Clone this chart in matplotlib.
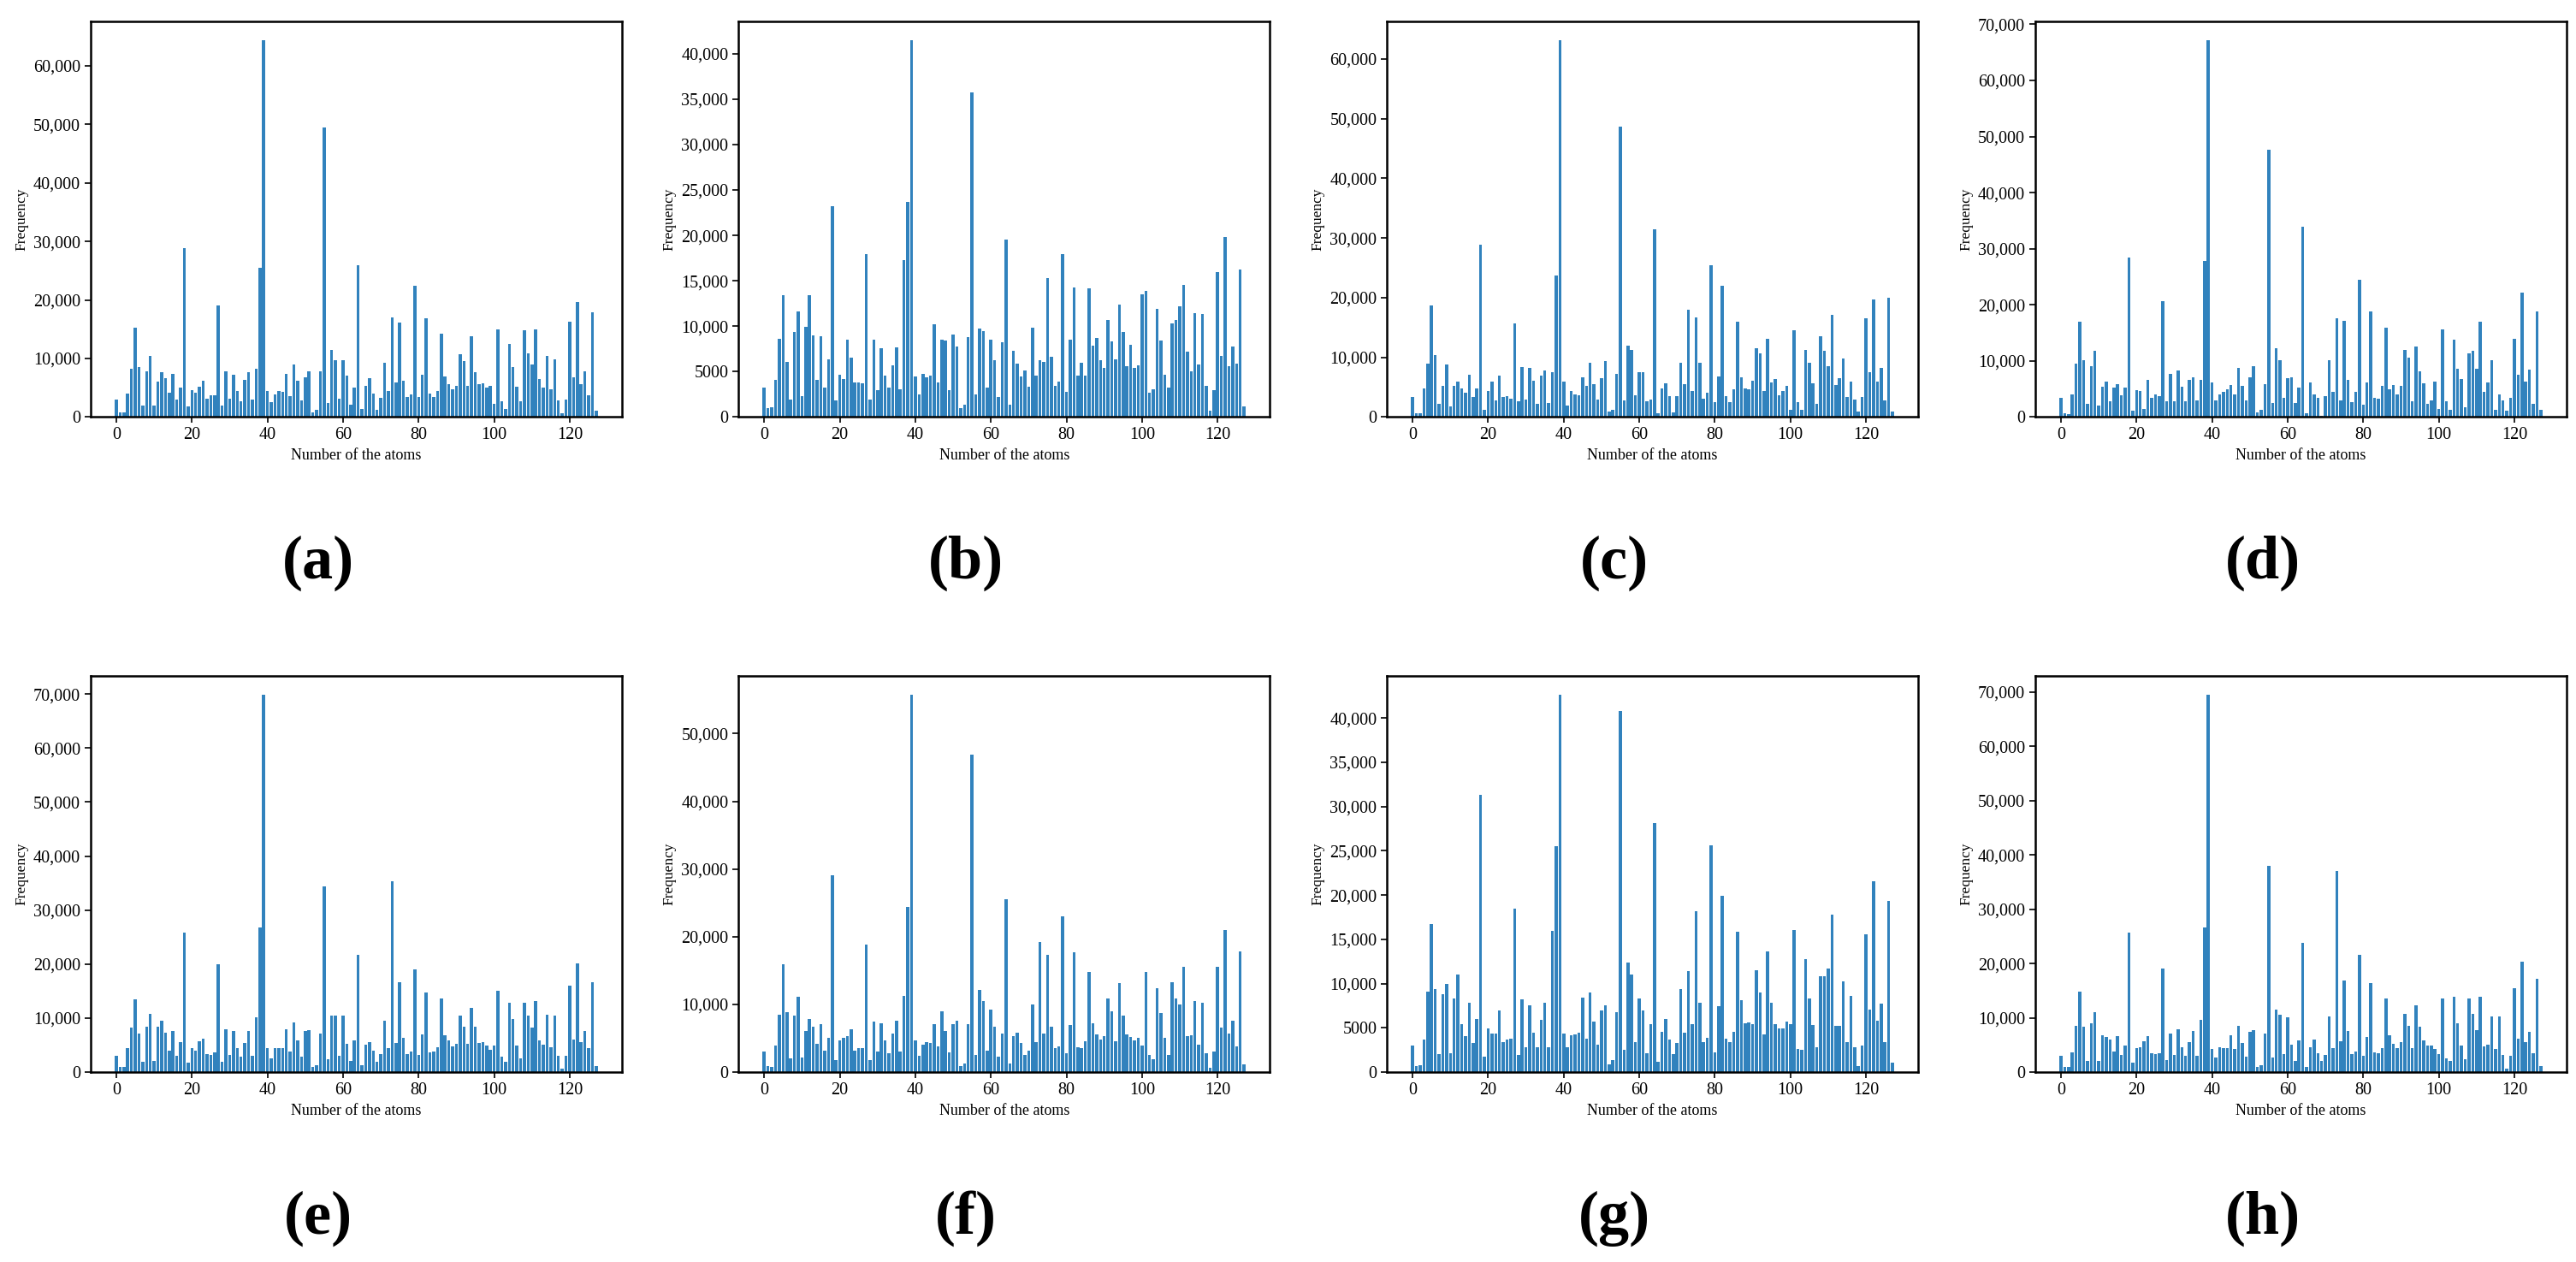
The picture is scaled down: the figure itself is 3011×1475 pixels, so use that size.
import matplotlib
matplotlib.use("Agg")
import matplotlib.pyplot as plt
from matplotlib.ticker import FuncFormatter
import numpy as np

# Frequency of each atom (0..127) for the eight panels
freq_a = [3000, 800, 800, 4000, 8200, 15300, 8600, 2000, 7800, 10400,
          2000, 6100, 7700, 6600, 4200, 7400, 3000, 5100, 28800, 1800,
          4600, 4200, 5200, 6200, 3100, 3700, 3700, 19000, 2000, 7800,
          3100, 7300, 4400, 2700, 6400, 7700, 3000, 8200, 25500, 64400,
          4400, 2600, 3900, 4400, 4300, 7400, 3600, 9000, 6200, 2900,
          6800, 7800, 800, 1300, 7800, 49400, 2400, 11500, 9700, 3100,
          9700, 7100, 2100, 5100, 25900, 1400, 5300, 6600, 4000, 1300,
          3300, 9300, 4400, 17000, 5900, 16100, 6200, 3400, 3900, 22400,
          3400, 7300, 16800, 4000, 3400, 4400, 14200, 6900, 5600, 4700,
          5300, 10700, 9500, 5300, 13800, 7700, 5600, 5800, 5100, 5300,
          2200, 15000, 2700, 1400, 12500, 8600, 5200, 2700, 14800, 10900,
          9000, 15000, 6500, 5100, 10400, 4700, 9900, 2900, 700, 3000,
          16300, 6800, 19700, 5600, 7800, 3700, 17900, 1100]

freq_b = [3200, 1000, 1100, 4100, 8600, 13400, 6100, 1900, 9400, 11600,
          2300, 9900, 13400, 9000, 4100, 8900, 3200, 6400, 23200, 1800,
          4700, 4200, 8500, 6500, 3800, 3800, 3700, 17900, 1900, 8500,
          3000, 7600, 4600, 3200, 5700, 7700, 3100, 17300, 23700, 41500,
          4500, 2500, 4800, 4400, 4600, 10200, 3800, 8500, 8400, 3000,
          9100, 7800, 1000, 1400, 8800, 35700, 2500, 9700, 9500, 3200,
          8500, 6300, 2200, 8200, 19500, 1400, 7300, 5900, 4500, 5100,
          3300, 9800, 4600, 6300, 6100, 15300, 6600, 3400, 3900, 17900,
          2800, 8500, 14300, 4600, 6000, 4600, 14200, 7900, 8700, 6300,
          5400, 10700, 8300, 6400, 12400, 9400, 5600, 8000, 5400, 5700,
          13500, 13900, 2700, 3100, 11900, 8400, 4700, 3200, 10300, 10700,
          12200, 14500, 7200, 5000, 11400, 5800, 11300, 3400, 700, 3000,
          16000, 6700, 19800, 5600, 7800, 5900, 16200, 1200]

freq_c = [3400, 700, 700, 4800, 9000, 18700, 10400, 2200, 5200, 8800,
          1800, 5200, 5900, 4800, 4100, 7100, 3400, 4800, 28900, 1200,
          4400, 5900, 2800, 7000, 3400, 3500, 3100, 15700, 2700, 8400,
          2900, 8200, 6100, 2200, 7000, 7800, 2400, 7500, 23700, 63200,
          5900, 1900, 4300, 3800, 3600, 6700, 5200, 9100, 5500, 2900,
          6500, 9400, 900, 1200, 7200, 48700, 2800, 12000, 11300, 3600,
          7500, 7500, 2700, 2900, 31400, 700, 4800, 5700, 3500, 800,
          3500, 9100, 5500, 18000, 4400, 16700, 9100, 3100, 4100, 25500,
          2500, 6800, 22000, 3500, 2500, 4700, 16000, 6700, 4800, 4700,
          6100, 11500, 10700, 4300, 13100, 5800, 6400, 3600, 4400, 5200,
          1200, 14500, 2500, 1200, 11300, 9100, 5700, 2200, 13600, 11100,
          8600, 17200, 5400, 6500, 9800, 3400, 5900, 2900, 900, 3400,
          16500, 7500, 19700, 5900, 8200, 2800, 20000, 900]

freq_d = [3400, 700, 500, 4000, 9500, 17000, 10200, 2300, 9000, 11800,
          2000, 5400, 6400, 2800, 5200, 5800, 3900, 5200, 28500, 1100,
          4800, 4600, 1400, 6600, 3500, 4100, 3700, 20600, 2800, 7700,
          2800, 8300, 5400, 2800, 6600, 7100, 2900, 6600, 27800, 67200,
          6200, 2900, 4100, 4500, 4900, 5700, 4100, 8700, 5600, 2900,
          7100, 9000, 800, 1300, 5800, 47600, 2500, 12300, 10200, 3400,
          6900, 7100, 2500, 5200, 33900, 700, 6200, 4000, 3500, 300,
          3700, 10200, 4500, 17600, 2900, 17100, 6600, 2600, 4500, 24500,
          2200, 6200, 18800, 3400, 3300, 5600, 15900, 4900, 5700, 4000,
          5600, 11900, 10600, 2800, 12500, 8100, 6000, 2300, 2900, 6300,
          1400, 15600, 2800, 1300, 13800, 8600, 6800, 1700, 11300, 11800,
          8600, 17000, 4500, 6200, 10200, 1300, 4000, 2900, 1100, 3400,
          14000, 7500, 22200, 6300, 8400, 2300, 18800, 1300]

freq_e = [3100, 1000, 900, 4400, 8300, 13500, 7200, 2000, 8400, 10800,
          2100, 8400, 9600, 7300, 4000, 7600, 3100, 5600, 25900, 1800,
          4500, 4000, 5700, 6200, 3400, 3200, 3700, 20000, 2000, 8000,
          3200, 7600, 4500, 2900, 5400, 7600, 3100, 10200, 26800, 69800,
          4500, 2600, 4400, 4400, 4400, 8000, 3800, 9200, 5900, 2900,
          7600, 7800, 900, 1300, 7200, 34400, 2400, 10500, 10500, 3100,
          10400, 5300, 2100, 5900, 21700, 1300, 5100, 5600, 4000, 2000,
          3400, 9600, 4500, 35400, 5400, 16700, 6400, 3400, 3800, 19100,
          3200, 7000, 14800, 3700, 3800, 4600, 13600, 6800, 5900, 4800,
          5300, 10500, 8400, 5300, 11900, 8400, 5400, 5600, 4900, 4200,
          4900, 15100, 2800, 2000, 12800, 9800, 4900, 2600, 12800, 10400,
          8300, 13200, 5900, 5100, 10600, 4600, 10500, 3100, 700, 3100,
          16000, 6100, 20100, 5600, 7600, 4400, 16700, 1200]

freq_f = [3100, 900, 800, 4000, 8500, 15900, 8900, 2100, 8400, 11200,
          2200, 6100, 7900, 6700, 4200, 7100, 3200, 5100, 29100, 1800,
          4700, 5100, 5300, 6400, 3200, 3500, 3600, 18900, 1800, 7500,
          3100, 7200, 4700, 2800, 5700, 7600, 3100, 11300, 24400, 55700,
          4700, 2400, 4100, 4500, 4300, 7100, 3800, 9000, 6100, 2900,
          7100, 7600, 900, 1300, 7100, 46900, 2600, 12100, 10500, 3200,
          9300, 6700, 2300, 5700, 25600, 1300, 5300, 5800, 4300, 2600,
          3200, 10000, 4500, 19200, 5700, 17300, 6700, 3500, 3800, 23000,
          2800, 7000, 17700, 3700, 3600, 4600, 14800, 7200, 5600, 4800,
          5300, 10900, 9000, 4600, 13200, 8400, 5600, 5200, 4700, 5100,
          3900, 14800, 2600, 1900, 12400, 8800, 5100, 2600, 13300, 10900,
          10000, 15600, 5300, 5500, 10500, 4100, 10200, 2800, 700, 3100,
          15600, 6600, 21000, 5700, 7600, 3800, 17800, 1200]

freq_g = [3000, 700, 800, 3700, 9100, 16700, 9400, 2000, 8800, 10000,
          2100, 8300, 11000, 5400, 4100, 7800, 3300, 6000, 31300, 1800,
          4900, 4400, 4400, 7000, 3400, 3700, 3800, 18500, 1900, 8200,
          2800, 7600, 4500, 2800, 5900, 7800, 2800, 16000, 25500, 42600,
          4400, 2800, 4200, 4300, 4500, 8400, 3800, 9000, 5700, 3100,
          7000, 7600, 900, 1400, 6800, 40800, 2500, 12400, 11000, 3400,
          8300, 7000, 2100, 5400, 28100, 1200, 4600, 6000, 3700, 2000,
          3300, 9400, 4500, 11400, 5400, 18200, 7800, 3400, 3900, 25600,
          2200, 7500, 19900, 3800, 3400, 4600, 15900, 8100, 5500, 5600,
          5400, 11500, 9000, 4300, 13600, 7800, 5400, 4900, 4900, 5700,
          5400, 16100, 2600, 2500, 12800, 8300, 5300, 2800, 10800, 10800,
          11700, 17800, 5200, 5200, 10300, 3400, 8600, 2800, 700, 3000,
          15600, 7100, 21600, 5800, 7700, 3400, 19300, 1100]

freq_h = [3000, 900, 900, 3700, 8600, 14900, 8400, 2000, 9000, 11100,
          2100, 6800, 6500, 6000, 3800, 6600, 3200, 4900, 25700, 1800,
          4400, 4600, 5700, 6600, 3500, 3400, 3500, 19100, 2300, 7100,
          3200, 7900, 4600, 3000, 5600, 7600, 3000, 9600, 26700, 69400,
          4300, 2700, 4600, 4400, 4400, 6800, 4200, 8600, 5400, 2900,
          7400, 7800, 1000, 1300, 7100, 37900, 2700, 11500, 10600, 3400,
          10100, 5100, 2100, 5900, 23800, 1000, 4600, 6000, 3500, 2100,
          3200, 10300, 4400, 37100, 5700, 16900, 7600, 3400, 3800, 21600,
          3000, 6500, 16400, 3700, 3500, 4400, 13600, 6800, 5200, 4400,
          5600, 10700, 8600, 4400, 12300, 8400, 5900, 4900, 4900, 4300,
          3400, 13600, 2600, 2100, 13900, 9000, 4900, 2400, 13500, 10700,
          7800, 13900, 4800, 5100, 10300, 4300, 10300, 3200, 700, 3000,
          15500, 6200, 20400, 5600, 7400, 3500, 17200, 1200]

panels = [freq_a, freq_b, freq_c, freq_d, freq_e, freq_f, freq_g, freq_h]
panel_labels = ["(a)", "(b)", "(c)", "(d)", "(e)", "(f)", "(g)", "(h)"]
atoms = np.arange(128)

plt.rcParams['font.family'] = ['Liberation Serif', 'DejaVu Serif']


# thousands separator only from 10,000 upward (5000 stays plain)
def freq_fmt(v, pos):
    if abs(v) >= 10000:
        return f"{v:,.0f}"
    return f"{v:.0f}"


fig = plt.figure(figsize=(30.11, 14.75), dpi=100)

lefts = [0.0352, 0.2867, 0.5384, 0.7901]
bottoms = [0.6695, 0.1504]
label_y = [0.554, 0.0346]
w, h = 0.2062, 0.3138

for k, vals in enumerate(panels):
    row, col = divmod(k, 4)
    ax = fig.add_axes([lefts[col], bottoms[row], w, h])
    ax.bar(atoms, vals, width=0.8, color='#3182bd')
    ax.set_xticks([0, 20, 40, 60, 80, 100, 120])
    ax.yaxis.set_major_formatter(FuncFormatter(freq_fmt))
    ax.tick_params(labelsize=14.5, width=1.2, length=5)
    ax.set_xlabel('Number of the atoms', fontsize=13)
    ax.set_ylabel('Frequency', fontsize=12.5)
    for sp in ax.spines.values():
        sp.set_linewidth(1.8)
    fig.text(lefts[col] + 0.0883, label_y[row], panel_labels[k],
             fontsize=52, fontweight='bold', ha='center', va='center')

fig.savefig('out.png', dpi=100)
